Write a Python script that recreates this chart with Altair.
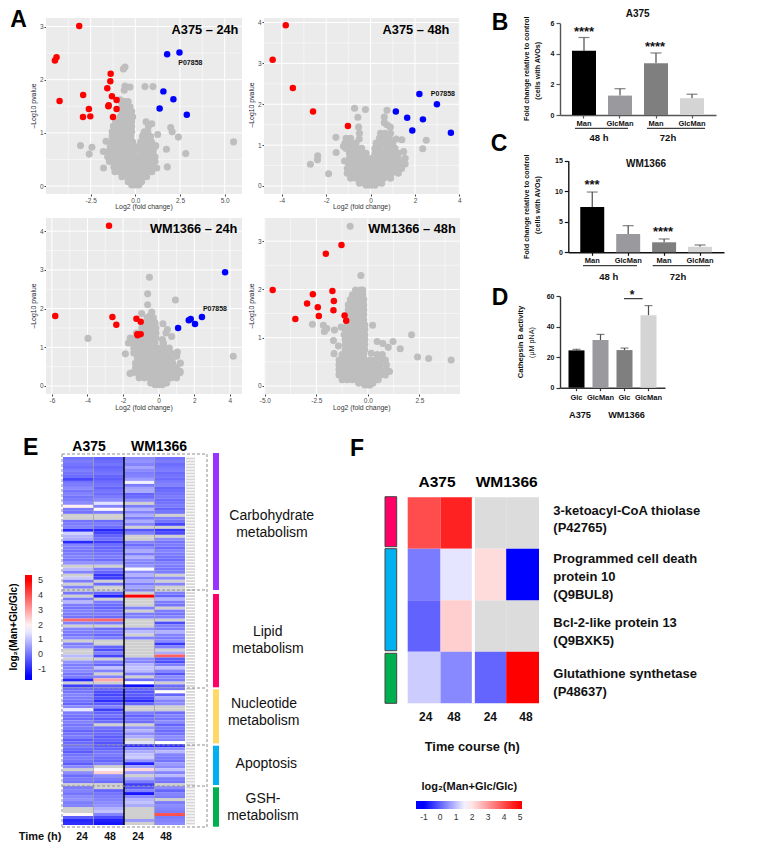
import altair as alt
import pandas as pd

n = None
W, H = 755, 844
FONT = "Liberation Sans"

# ---------- volcano data (log2 fold change, -log10 p) ----------
A1_RED_X = [-3.14, -4.41, -4.50, -4.24, -2.92, -2.60, -2.93, -2.52, -1.38, -1.40, -1.57, -1.31, -1.05, -1.51, -1.05, -1.25, -1.49]
A1_RED_Y = [3.01, 2.42, 2.36, 1.60, 1.71, 1.45, 1.30, 1.31, 2.11, 1.97, 1.84, 1.69, 1.62, 1.50, 1.45, 1.30, 1.52]
A1_BLUE_X = [1.78, 2.47, 1.57, 2.13, 1.36, 2.88]
A1_BLUE_Y = [2.48, 2.51, 1.78, 1.63, 1.46, 1.34]
A1_GREY_X = [-.58, -.67, -.58, -.3, -.62, .54, .99, -.86, -.64, -.52, -.49, -.39, -1.23, -1.14, .6, .92, .73, 1.98, 2.06, 2.41, 1.25, 5.5, -3.07, -2.43, -2.58, -1.79, -1.64, -1.78, 1.74, 2.82, 1.14, 1.2, 1.79, .45, .82]
A1_GREY_Y = [2.24, 2.2, 1.88, 1.86, 1.8, 1.87, 1.87, 1.62, 1.55, 1.49, 1.37, 1.27, 1.13, 1.09, 1.21, 1.17, 1.12, 1.10, 1.02, .92, .97, .83, .76, .73, .6, .65, .84, .34, .69, .61, .76, .34, .36, .97, .93]
A1_MASS = {
    .02: [-.2, 0, .2], .08: [-.4, -.15, .1, .35], .175: [-.75, -.45, -.15, .15, .4, .63],
    .27: [-1.14, -.85, -.55, -.25, .05, .35, .65, .92], .36: [-1.2, -.9, -.6, -.3, 0, .3, .6, .85, 1.0],
    .46: [-1.45, -1.15, -.85, -.55, -.25, .05, .35, .65, .95, 1.1], .55: [-1.55, -1.25, -.95, -.65, -.35, -.05, .25, .55, .85, 1.1],
    .65: [-1.5, -1.2, -.9, -.6, -.3, -.05, .3, .6, .85, 1.0], .74: [-1.4, -1.1, -.8, -.5, -.2, .1, .4, .7, 1.0, 1.1],
    .83: [-1.3, -1, -.7, -.4, -.15, .3, .6, .9], .93: [-1.3, -1.0, -.7, -.4, -.25, .4, .65, .85],
    1.02: [-1.3, -1, -.7, -.4, -.2, .5, .7], 1.12: [-1.2, -.9, -.6, -.3, -.2], 1.21: [-1.1, -.8, -.5, -.2],
    1.3: [-.85, -.55, -.25, -.15], 1.4: [-.75, -.5, -.2], 1.49: [-.75, -.5, -.3], 1.59: [-.8, -.6, -.4],
}

A2_RED_X = [-3.82, -4.41, -3.5, -2.59, -1.02]
A2_RED_Y = [3.93, 3.09, 2.40, 1.82, 1.47]
A2_BLUE_X = [2.2, 2.99, 1.14, 1.65, 2.36, 1.88, 3.62]
A2_BLUE_Y = [2.25, 2.0, 1.82, 1.67, 1.63, 1.36, 1.30]
A2_GREY_X = [-.72, -.23, -.57, -.54, -.5, -.51, -1.56, -1.07, -.96, -1.22, -1.55, -2.38, -2.39, -2.71, -1.89, -1.17, .74, .62, .62, .74, .89, 2.51, 2.35, 1.41, 1.16, .81, .59, 1.49, 1.56, 1.56, 1.26]
A2_GREY_Y = [1.9, 1.87, 1.68, 1.44, 1.29, 1.15, 1.19, 1.15, 1.05, .97, .82, .74, .64, .53, .30, .61, 1.85, 1.69, 1.55, 1.5, 1.44, 1.12, .91, 1.13, 1.15, 1.25, 1.21, .84, .68, .54, .56]
A2_MASS = {
    .02: [-.2, 0, .2], .07: [-.5, -.25, 0, .25, .5], .19: [-.9, -.65, -.4, -.15, .1, .35, .6, .9],
    .31: [-1.05, -.8, -.55, -.3, -.05, .2, .45, .7, .95, 1.25], .43: [-1.05, -.8, -.55, -.3, -.05, .2, .45, .7, .95, 1.2, 1.4],
    .56: [-1, -.75, -.5, -.25, 0, .25, .5, .75, 1, 1.25, 1.4], .68: [-.95, -.7, -.45, -.2, .05, .3, .55, .8, 1.05, 1.25],
    .8: [-.95, -.7, -.45, -.2, .2, .45, .7, .95, 1.25], .92: [-1.1, -.85, -.6, -.4, .2, .4, .7, .95, 1.1],
    1.05: [-1.15, -.9, -.65, .25, .5, .75, 1], 1.17: [-1.1, -.9, .4, .6, .85], 1.29: [.45, .65, .9],
}

A3_RED_X = [-2.79, -5.81, -2.6, -2.38, -1.25, -1.01, -1.2, -1.01, -1.18]
A3_RED_Y = [4.14, 1.81, 1.78, 1.58, 1.74, 1.66, 1.34, 1.34, 1.31]
A3_BLUE_X = [3.73, 2.43, 1.8, 1.69, 2.04, 1.09]
A3_BLUE_Y = [2.94, 1.78, 1.73, 1.70, 1.60, 1.5]
A3_GREY_X = [-.52, -.62, -.62, .94, -.96, -.39, -.52, -3.97, -1.87, 4.19, .24, .49, .41, .73, .21, .26, 1.05, 1.01, 1.22, 1.2, -1.61]
A3_GREY_Y = [2.81, 2.38, 2.10, 2.22, 1.87, 1.91, 1.8, 1.23, .83, .77, 1.61, 1.46, 1.37, 1.28, 1.2, 1.11, .88, .77, .59, .38, .32]
A3_MASS = {
    .03: [-.2, 0, .2], .08: [-.45, -.15, .15, .45], .21: [-1.1, -.8, -.5, -.2, .1, .4, .7, 1.0],
    .34: [-1.5, -1.2, -.9, -.6, -.3, 0, .3, .6, .9, 1.2], .47: [-1.3, -1, -.7, -.4, -.1, .2, .5, .8, 1],
    .59: [-1.3, -1, -.7, -.4, -.1, .2, .5, .8], .72: [-1.2, -.9, -.6, -.3, 0, .3, .6, .75],
    .85: [-1.4, -1.1, -.8, -.5, -.2, .1, .4, .7], .98: [-1.4, -1.1, -.8, -.5, -.2, .1, .35, .6],
    1.11: [-1.7, -1.4, -1.1, -.8, -.5, -.2, .25], 1.24: [-1.6, -1.3, -1, -.7, -.4, -.15],
    1.37: [-1.25, -.95, -.65, -.35, -.15], 1.5: [-.95, -.65, -.35, -.15], 1.63: [-.75, -.45, -.2], 1.76: [-.65, -.35, -.3],
}

A4_RED_X = [-1.28, -2.04, -4.62, -2.67, -1.72, -2.95, -1.65, -2.43, -1.67, -2.38, -3.52, -1.13, -1.05]
A4_RED_Y = [2.92, 2.74, 1.99, 1.90, 1.97, 1.71, 1.76, 1.63, 1.57, 1.45, 1.39, 1.46, 1.35]
A4_GREY_X = [-.86, -.34, -2.69, -2.16, -1.99, -2.11, -1.62, -1.3, -1.67, -1.43, -1.64, .23, 2.12, 1.22, .45, .73, .99, 1.57, 2.41, 2.95, 4.04, .16, 1.05]
A4_GREY_Y = [3.31, 2.29, 1.28, 1.26, 1.19, 1.13, 1.16, 1.22, .94, .83, .67, 1.26, 1.06, .92, .92, .88, .8, .77, .6, .57, .54, .68, .3]
A4_MASS = {
    .02: [-.15, 0, .1], .06: [-.45, -.2, .05, .25], .13: [-1.25, -1, -.75, -.5, -.25, 0, .25, .5],
    .23: [-1.4, -1.15, -.9, -.65, -.4, -.15, .1, .35, .6, .85], .34: [-1.4, -1.15, -.9, -.65, -.4, -.15, .1, .35, .6, .9],
    .44: [-1.4, -1.15, -.9, -.65, -.4, -.15, .1, .35, .6, .9], .54: [-1.4, -1.15, -.9, -.65, -.4, -.15, .1, .35, .55, .85],
    .65: [-1.25, -1, -.75, -.5, -.4, -.2, .45, .7], .75: [-1.1, -.85, -.6, -.35, -.15], .86: [-1.1, -.85, -.6, -.35, -.15],
    .96: [-1.1, -.85, -.6, -.35, -.15], 1.06: [-1.15, -.9, -.65, -.4, -.15], 1.17: [-1.1, -.85, -.6, -.35, -.15],
    1.27: [-1.0, -.75, -.5, -.25, -.15], 1.37: [-.95, -.7, -.45, -.2], 1.48: [-.95, -.7, -.45, -.2],
    1.58: [-.95, -.7, -.45, -.2], 1.68: [-.95, -.7, -.45, -.2], 1.79: [-.85, -.6, -.35, -.2],
    1.89: [-.75, -.5, -.25], 1.99: [-.6, -.35, -.25],
}

# ---------- bar panels ----------
B_CATS = ["Man 48", "GlcMan 48", "Man 72", "GlcMan 72"]
B_VALS = [4.21, 1.27, 3.38, 1.1]
B_ERRS = [5.07, 1.72, 4.06, 1.36]
C_VALS = [7.42, 3.0, 1.64, .9]
C_ERRS = [9.87, 4.36, 2.18, 1.2]
D_CATS = ["Glc A", "GlcMan A", "Glc W", "GlcMan W"]
D_VALS = [24.5, 31.3, 24.7, 47.5]
D_ERRS = [25.2, 35.0, 26.0, 53.9]
BAR_COLORS = ["#000000", "#9a9a9e", "#7f7f7f", "#d4d4d4"]

# ---------- heatmap E: log2(Man+Glc/Glc), one list per column, None = not detected ----------
E_A375_24 = [0,.1,0,-.1,.1,0,-.1,-.6,0,.1,
 .3,0,.2,0,.1,.3,2.0,.1,0,n,
 n,0,.1,.2,-1,1.2,.8,.7,-1,.2,
 .1,0,.1,.2,0,.4,n,.9,.2,n,
 1.1,.1,n,.2,n,0,n,.1,.9,.1,
 0,.2,.1,0,3.7,.2,n,.2,.1,0,
 .3,n,.1,.3,n,n,.9,n,.4,.1,
 .2,.3,0,.1,-1,n,-.7,-.1,0,.2,
 .1,0,-.2,.3,1.5,.1,0,-.1,.2,0,
 .1,-.2,0,.1,-.3,-.1,0,-.1,-.3,0,
 .1,0,-.3,.3,n,.3,-.1,.1,0,n,
 .1,.2,0,.3,.4,.1,.2,n,n,1.9,
 -.3,-1,-.9]
E_A375_48 = [-.2,-.1,0,-.2,-.1,0,-.2,-.3,-.1,0,
 -.2,0,-.1,.1,.3,1.4,.2,1.9,.1,n,
 n,-.1,.1,-.1,-1,-.6,-.2,0,-.7,-.1,
 -.2,-.1,0,.1,-.1,.4,n,.1,-.2,-.8,
 -.7,n,-.1,n,n,-.2,-1.1,n,.1,-.1,
 -.2,0,.1,-.1,3.7,.1,n,-.1,.1,-.2,
 .1,n,n,-.2,-.5,.2,-.6,n,.1,-.2,
 1,.2,n,.2,2.9,n,-.3,-.2,-.5,-.6,
 -.4,-.9,-.3,.2,-.7,-.2,0,-.3,-.1,n,
 0,-.2,-.1,-.3,-.2,-.4,-.3,-.2,0,.1,
 -.1,-.2,.1,n,1.7,2.4,.3,.1,-.1,n,
 n,-.2,0,.1,.2,.3,.4,.8,1,.2,
 -.5,-1.1,-1.2]
E_WM_24 = [.3,.4,.2,.6,.3,.1,.2,.5,1.6,.1,
 .6,.7,-.2,-.1,.3,n,.1,.8,.2,.7,
 .1,.7,.2,n,-.4,.1,n,n,.2,-.1,
 .3,.7,.1,.8,.3,.2,.4,1.7,.3,.8,
 .2,.7,.1,.6,.2,n,5,n,n,n,
 .2,n,.1,.2,n,n,n,.3,.9,n,
 .2,n,n,n,n,n,n,.3,.2,.8,
 1,.9,.1,n,-.1,1.8,-1.3,-.2,-.4,-.3,
 -.5,-1,-.2,n,n,.1,-.2,0,-.1,n,
 .4,.8,.3,.7,n,1.4,-.9,.3,.7,1,
 1.1,.4,-1.1,.6,2.3,.5,n,.7,.1,-.7,
 -.3,.2,-1.2,.3,.8,1,.7,n,n,n,
 n,.5,n]
E_WM_48 = [0,.1,-.1,0,.1,-.1,0,-.1,.1,.2,
 -.2,-.1,0,.1,-.1,0,.1,-.2,0,n,
 .2,0,-.6,n,-.8,-.5,n,.3,0,.1,
 -.1,.2,.1,0,-.1,.2,.1,0,.1,n,
 .3,n,.2,n,n,.1,-.2,.8,.1,0,
 n,.1,0,.2,n,-.5,.2,.1,.8,.2,
 .1,.3,-.8,.2,n,.7,3.8,-.3,-.5,.1,
 1,.2,-.4,.3,.1,n,-.1,0,1.8,-.2,
 .7,.2,.3,n,n,-.1,.2,0,.3,-.2,
 .1,-.1,0,.3,.2,1.8,-.9,.3,.9,.2,
 .1,0,.5,.3,1,.2,.9,.1,0,n,
 .3,-.2,.2,.1,n,.1,.3,.2,.1,4,
 .1,.2,.3]
E_COLUMNS = [E_A375_24, E_A375_48, E_WM_24, E_WM_48]

# ---------- heatmap F ----------
F_PROTEINS = ["P42765", "Q9BUL8", "Q9BXK5", "P48637"]
F_VALUES = [[4.0, 4.56, n, n], [.28, 1.39, 2.12, -1], [.02, 2.29, n, n], [1.13, .42, .04, 5]]

# ---------- page layout (image pixels) ----------
def sc(domain, rng, **kw):
    return alt.Scale(domain=domain, range=[r - 8 for r in rng], nice=False, zero=False, **kw)

PX = sc([0, 771], [0, 771])
PY = sc([0, 860], [0, 860])
layers = []

def off_bottom(py):
    return (py - 8) - H

def off_left(px):
    return -(px - 8)

MINUS = "replace(datum.label,'\u2212','-')"
GREY_SIZE = 50

def volcano(xd, xr, yd, yr, xmaj, xmin, ymaj, ymin, xfmt, rx, ry, bx, by, gx, gy, mass, tag):
    X = sc(xd, xr)
    Y = sc(yd, yr)
    def xenc(f, axis=None):
        return alt.X(f + ":Q", scale=X, axis=axis)
    def yenc(f, axis=None):
        return alt.Y(f + ":Q", scale=Y, axis=axis)
    bg = pd.DataFrame({"a": [xd[0]], "b": [xd[1]], "c": [yd[0]], "d": [yd[1]]})
    layers.append(alt.Chart(bg).mark_rect(color="#ebebeb").encode(
        x=xenc("a"), x2=alt.X2("b"), y=yenc("c"), y2=alt.Y2("d")))
    for vals, w in ((xmin, .5), (xmaj, 1.0)):
        d = pd.DataFrame({"v": vals, "c": yd[0], "d": yd[1]})
        layers.append(alt.Chart(d).mark_rule(color="white", strokeWidth=w).encode(
            x=xenc("v"), y=yenc("c"), y2=alt.Y2("d")))
    for vals, w in ((ymin, .5), (ymaj, 1.0)):
        d = pd.DataFrame({"v": vals, "a": xd[0], "b": xd[1]})
        layers.append(alt.Chart(d).mark_rule(color="white", strokeWidth=w).encode(
            y=yenc("v"), x=xenc("a"), x2=alt.X2("b")))
    axx = alt.Axis(orient="bottom", offset=off_bottom(yr[0]), values=xmaj, format=xfmt, labelExpr=MINUS,
                   grid=False, domain=False, tickSize=2, tickColor="#444", labelColor="#4d4d4d",
                   labelFontSize=6.5, labelPadding=1, title=None, labelFlush=False, labelOverlap=False)
    axy = alt.Axis(orient="left", offset=off_left(xr[0]), values=ymaj, format="d",
                   grid=False, domain=False, tickSize=2, tickColor="#444", labelColor="#4d4d4d",
                   labelFontSize=6.5, labelPadding=1, title=None, labelFlush=False, labelOverlap=False)
    mx, my = [], []
    for yv, xs in mass.items():
        for v in xs:
            mx.append(v)
            my.append(yv)
    grey = pd.DataFrame({"x": mx + gx, "y": my + gy})
    layers.append(alt.Chart(grey).mark_circle(size=GREY_SIZE, opacity=1, color="#bebebe").encode(
        x=xenc("x", axx), y=yenc("y", axy)))
    layers.append(alt.Chart(pd.DataFrame({"x": rx, "y": ry})).mark_circle(size=42, opacity=1, color="#ff0000").encode(
        x=xenc("x"), y=yenc("y")))
    if bx:
        layers.append(alt.Chart(pd.DataFrame({"x": bx, "y": by})).mark_circle(size=42, opacity=1, color="#0000ff").encode(
            x=xenc("x"), y=yenc("y")))
    if tag:
        layers.append(alt.Chart(pd.DataFrame({"x": [tag[0]], "y": [tag[1]], "t": ["P07858"]})).mark_text(
            font=FONT, fontSize=7, fontWeight="bold", color="#111").encode(
            x=xenc("x"), y=yenc("y"), text="t:N"))

volcano([-5.0, 5.97], [46, 242], [-.15, 3.16], [194, 18], [-2.5, 0, 2.5, 5], [-3.75, -1.25, 1.25, 3.75], [0, 1, 2, 3], [.5, 1.5, 2.5], ".1f",
        A1_RED_X, A1_RED_Y, A1_BLUE_X, A1_BLUE_Y, A1_GREY_X, A1_GREY_Y, A1_MASS, (3.08, 2.31))
volcano([-4.8, 4.03], [264, 460], [-.196, 4.11], [194, 18], [-4, -2, 0, 2, 4], [-3, -1, 1, 3], [0, 1, 2, 3, 4], [.5, 1.5, 2.5, 3.5], "d",
        A2_RED_X, A2_RED_Y, A2_BLUE_X, A2_BLUE_Y, A2_GREY_X, A2_GREY_Y, A2_MASS, (3.26, 2.25))
volcano([-6.33, 4.68], [46, 242], [-.207, 4.34], [394, 218], [-6, -4, -2, 0, 2, 4], [-5, -3, -1, 1, 3], [0, 1, 2, 3, 4], [.5, 1.5, 2.5, 3.5], "d",
        A3_RED_X, A3_RED_Y, A3_BLUE_X, A3_BLUE_Y, A3_GREY_X, A3_GREY_Y, A3_MASS, (3.16, 2.0))
volcano([-5.04, 4.47], [264, 460], [-.166, 3.48], [394, 218], [-5, -2.5, 0, 2.5], [-3.75, -1.25, 1.25, 3.75], [0, 1, 2, 3], [.5, 1.5, 2.5], ".1f",
        A4_RED_X, A4_RED_Y, [], [], A4_GREY_X, A4_GREY_Y, A4_MASS, None)

def bars(cats, vals, errs, xr, yd, yr, ticks, pad_in, pad_out, capw, label_pad, axis_color):
    Xb = alt.Scale(domain=cats, range=[r - 8 for r in xr], paddingInner=pad_in, paddingOuter=pad_out)
    Y = sc(yd, yr)
    df = pd.DataFrame({"cat": cats, "v": vals, "e": errs})
    axx = alt.Axis(orient="bottom", offset=off_bottom(yr[0]), labelExpr="split(datum.label,' ')[0]", labelAngle=0,
                   title=None, grid=False, domainColor=axis_color, domainWidth=1.4, tickColor=axis_color, tickWidth=1.2,
                   tickSize=3, labelFontSize=7.5, labelFontWeight="bold", labelColor="#111", labelPadding=label_pad)
    axy = alt.Axis(orient="left", offset=off_left(xr[0]), values=ticks, format="d", title=None, grid=False,
                   domainColor=axis_color, domainWidth=1.4, tickColor=axis_color, tickWidth=1.2, tickSize=4,
                   labelFontSize=7, labelFontWeight="bold", labelColor="#111", labelPadding=2,
                   labelFlush=False, labelOverlap=False)
    xe = alt.X("cat:N", scale=Xb, axis=None, sort=None)
    layers.append(alt.Chart(df).mark_rule(color="#4d4d4d", strokeWidth=1.2).encode(
        x=xe, y=alt.Y("v:Q", scale=Y, axis=None), y2=alt.Y2("e")))
    layers.append(alt.Chart(df).mark_tick(color="#4d4d4d", orient="horizontal", size=capw, thickness=1.2).encode(
        x=xe, y=alt.Y("e:Q", scale=Y, axis=None)))
    layers.append(alt.Chart(df).mark_bar(size=(xr[1] - xr[0]) / (len(cats) - pad_in + 2 * pad_out) * (1 - pad_in)).encode(
        x=alt.X("cat:N", scale=Xb, axis=axx, sort=None),
        y=alt.Y("v:Q", scale=Y, axis=axy),
        color=alt.Color("cat:N", scale=alt.Scale(domain=cats, range=BAR_COLORS), legend=None)))

bars(B_CATS, B_VALS, B_ERRS, [560, 716], [0, 6], [115, 23.3], [0, 2, 4, 6], .333, .333, 11, 1, "#555555")
bars(B_CATS, C_VALS, C_ERRS, [568.3, 724], [0, 15], [252.3, 160.7], [0, 5, 10, 15], .333, .333, 11, 1, "#111111")
bars(D_CATS, D_VALS, D_ERRS, [560, 665], [0, 60], [387.7, 296.3], [0, 20, 40, 60], .333, .354, 8, 3, "#333333")

# ---------- heatmap E ----------
NROW = len(E_A375_24)
EX = sc([0, 4], [63, 185])
EY = sc([0, NROW], [457, 825])
E_SCALE = alt.Scale(domain=[-1.74, -1.5, 1.8, 5, 5.34], range=["#0000ff", "#0000ff", "#ffffff", "#ff0000", "#ff0000"], interpolate="rgb", clamp=True)
rows = []
for c, col in enumerate(E_COLUMNS):
    for r, v in enumerate(col):
        rows.append({"c0": c, "c1": c + 1, "r0": r, "r1": r + 1, "v": v})
edf = pd.DataFrame(rows)
layers.append(alt.Chart(edf[edf.v.isna()][["c0", "c1", "r0", "r1"]]).mark_rect(color="#cfcfcf").encode(
    x=alt.X("c0:Q", scale=EX, axis=None), x2=alt.X2("c1"), y=alt.Y("r0:Q", scale=EY, axis=None), y2=alt.Y2("r1")))
layers.append(alt.Chart(edf[edf.v.notna()]).mark_rect().encode(
    x=alt.X("c0:Q", scale=EX, axis=None), x2=alt.X2("c1"), y=alt.Y("r0:Q", scale=EY, axis=None), y2=alt.Y2("r1"),
    color=alt.Color("v:Q", scale=E_SCALE, legend=alt.Legend(
        orient="none", legendX=25 - 8, legendY=575 - 8, direction="vertical", gradientLength=105, gradientThickness=7,
        title=None, values=[-1, 0, 1, 2, 3, 4, 5], format="d", labelExpr=MINUS, labelFontSize=9, labelColor="#333",
        labelOffset=6, labelFont=FONT, gradientStrokeWidth=0))))
layers.append(alt.Chart(pd.DataFrame({"x": [1, 3], "a": 0, "b": NROW})).mark_rule(color="#999999", strokeWidth=.7).encode(
    x=alt.X("x:Q", scale=EX, axis=None), y=alt.Y("a:Q", scale=EY, axis=None), y2=alt.Y2("b")))
layers.append(alt.Chart(pd.DataFrame({"x": [2], "a": 0, "b": NROW})).mark_rule(color="#000000", strokeWidth=1.5).encode(
    x=alt.X("x:Q", scale=EX, axis=None), y=alt.Y("a:Q", scale=EY, axis=None), y2=alt.Y2("b")))
# faint protein-label column (illegible in the source)
lab = pd.DataFrame({"r": [r + .5 for r in range(NROW)], "a": 186, "b": 195})
layers.append(alt.Chart(lab).mark_rule(color="#d6d6d6", strokeWidth=1.8).encode(
    x=alt.X("a:Q", scale=PX, axis=None), x2=alt.X2("b"), y=alt.Y("r:Q", scale=EY, axis=None)))
# dashed group boxes
H_DASH = pd.DataFrame({"y": [454, 590, 688, 745, 786, 827], "a": 62, "b": 207})
V_DASH = pd.DataFrame({"x": [62, 207], "a": 454, "b": 827})
layers.append(alt.Chart(H_DASH).mark_rule(color="#8f8f8f", strokeWidth=1, strokeDash=[3, 2]).encode(
    y=alt.Y("y:Q", scale=PY, axis=None), x=alt.X("a:Q", scale=PX, axis=None), x2=alt.X2("b")))
layers.append(alt.Chart(V_DASH).mark_rule(color="#8f8f8f", strokeWidth=1, strokeDash=[3, 2]).encode(
    x=alt.X("x:Q", scale=PX, axis=None), y=alt.Y("a:Q", scale=PY, axis=None), y2=alt.Y2("b")))
# category strip
STRIP_E = pd.DataFrame({"a": 213, "b": 219, "t": [453, 594, 689.3, 745.7, 787.3], "u": [590, 687.3, 743.3, 785, 826.7],
                        "k": ["Carbohydrate", "Lipid", "Nucleotide", "Apoptosis", "GSH"]})
layers.append(alt.Chart(STRIP_E).mark_rect().encode(
    x=alt.X("a:Q", scale=PX, axis=None), x2=alt.X2("b"), y=alt.Y("t:Q", scale=PY, axis=None), y2=alt.Y2("u"),
    color=alt.Color("k:N", scale=alt.Scale(domain=list(STRIP_E.k), range=["#9933ff", "#ff0066", "#ffd966", "#00b0f0", "#00b050"]), legend=None)))

# ---------- heatmap F ----------
FX = sc([0, 4], [407.7, 539])
FY = sc([0, 4], [497.3, 703.3])
F_SCALE = alt.Scale(domain=[-1.5, -1, 1.66, 5, 5.125], range=["#0000ff", "#0000ff", "#ffffff", "#ff0000", "#ff0000"], interpolate="rgb", clamp=True)
rows = []
for r, rowv in enumerate(F_VALUES):
    for c, v in enumerate(rowv):
        rows.append({"c0": c, "c1": c + 1, "r0": r, "r1": r + 1, "v": v})
fdf = pd.DataFrame(rows)
layers.append(alt.Chart(fdf[fdf.v.isna()][["c0", "c1", "r0", "r1"]]).mark_rect(color="#dcdcdc").encode(
    x=alt.X("c0:Q", scale=FX, axis=None), x2=alt.X2("c1"), y=alt.Y("r0:Q", scale=FY, axis=None), y2=alt.Y2("r1")))
layers.append(alt.Chart(fdf[fdf.v.notna()]).mark_rect().encode(
    x=alt.X("c0:Q", scale=FX, axis=None), x2=alt.X2("c1"), y=alt.Y("r0:Q", scale=FY, axis=None), y2=alt.Y2("r1"),
    color=alt.Color("v:Q", scale=F_SCALE, legend=alt.Legend(
        orient="none", legendX=416 - 8, legendY=801 - 8, direction="horizontal", gradientLength=106, gradientThickness=8,
        title=None, values=[-1, 0, 1, 2, 3, 4, 5], format="d", labelExpr=MINUS, labelFontSize=8.5, labelColor="#333",
        labelOffset=4, labelFont=FONT, gradientStrokeWidth=0))))
layers.append(alt.Chart(pd.DataFrame({"x": [2], "a": 0, "b": 4})).mark_rule(color="#ffffff", strokeWidth=3).encode(
    x=alt.X("x:Q", scale=FX, axis=None), y=alt.Y("a:Q", scale=FY, axis=None), y2=alt.Y2("b")))
STRIP_F = pd.DataFrame({"a": 385, "b": 396.7, "t": [496.7, 548.7, 653.3], "u": [546.7, 650.7, 703.3], "k": ["Lipid", "Apoptosis", "GSH"]})
layers.append(alt.Chart(STRIP_F).mark_rect(stroke="#444444", strokeWidth=1).encode(
    x=alt.X("a:Q", scale=PX, axis=None), x2=alt.X2("b"), y=alt.Y("t:Q", scale=PY, axis=None), y2=alt.Y2("u"),
    color=alt.Color("k:N", scale=alt.Scale(domain=list(STRIP_F.k), range=["#ff0066", "#00b0f0", "#00b050"]), legend=None)))

# ---------- underlines in panels B, C, D ----------
LINES = pd.DataFrame({"a": [575, 647, 583, 652.7, 624], "b": [628, 705, 637, 710, 642.7], "y": [128.3, 128.3, 265.7, 265.7, 298.7]})
layers.append(alt.Chart(LINES).mark_rule(color="#111111", strokeWidth=1).encode(
    x=alt.X("a:Q", scale=PX, axis=None), x2=alt.X2("b"), y=alt.Y("y:Q", scale=PY, axis=None)))

# ---------- all free text: (text, x, y, size, bold, angle, align, colour) ----------
ANN = [
 ("A", 18.5, 20, 23, 1, 0, "center", "#000"), ("B", 500, 22.7, 23, 1, 0, "center", "#000"),
 ("C", 499, 144, 23, 1, 0, "center", "#000"), ("D", 500, 297.7, 23, 1, 0, "center", "#000"),
 ("E", 30.7, 448, 23, 1, 0, "center", "#000"), ("F", 357, 449, 23, 1, 0, "center", "#000"),
 ("A375 \u2013 24h", 205, 30, 12.8, 1, 0, "center", "#000"), ("A375 \u2013 48h", 416, 30, 12.8, 1, 0, "center", "#000"),
 ("WM1366 \u2013 24h", 193.7, 229, 12.8, 1, 0, "center", "#000"), ("WM1366 \u2013 48h", 412, 229, 12.8, 1, 0, "center", "#000"),
 ("Log2 (fold change)", 144, 207.3, 6.9, 0, 0, "center", "#333"), ("Log2 (fold change)", 361.7, 207.3, 6.9, 0, 0, "center", "#333"),
 ("Log2 (fold change)", 144, 407.7, 6.9, 0, 0, "center", "#333"), ("Log2 (fold change)", 361.7, 407.7, 6.9, 0, 0, "center", "#333"),
 ("\u2013Log10 pvalue", 34.3, 106, 6.9, 0, 270, "center", "#223"), ("\u2013Log10 pvalue", 252.3, 105, 6.9, 0, 270, "center", "#223"),
 ("\u2013Log10 pvalue", 34.3, 306, 6.9, 0, 270, "center", "#223"), ("\u2013Log10 pvalue", 252.3, 306, 6.9, 0, 270, "center", "#223"),
 ("A375", 637.7, 13.7, 10, 1, 0, "center", "#111"), ("WM1366", 646, 164, 10, 1, 0, "center", "#111"),
 ("Fold change relative to control", 526.7, 68.7, 7.2, 1, 270, "center", "#111"), ("(cells with AVOs)", 537.7, 70.7, 7.2, 1, 270, "center", "#111"),
 ("Fold change relative to control", 526.7, 206.7, 7.2, 1, 270, "center", "#111"), ("(cells with AVOs)", 537.7, 205, 7.2, 1, 270, "center", "#111"),
 ("****", 584, 31.5, 13, 1, 0, "center", "#111"), ("****", 655, 46.5, 13, 1, 0, "center", "#111"),
 ("***", 592, 185, 13, 1, 0, "center", "#111"), ("****", 663, 232, 13, 1, 0, "center", "#111"),
 ("*", 632, 295, 12, 1, 0, "center", "#111"),
 ("48 h", 599, 138, 9.5, 1, 0, "center", "#111"), ("72h", 668, 138, 9.5, 1, 0, "center", "#111"),
 ("48 h", 608.7, 276.7, 9.5, 1, 0, "center", "#111"), ("72h", 678, 276.7, 9.5, 1, 0, "center", "#111"),
 ("Cathepsin B activity", 520.7, 342, 7.6, 1, 270, "center", "#111"), ("(\u03bcM pNA)", 531.7, 342.5, 7.2, 0, 270, "center", "#111"),
 ("A375", 580, 414.5, 9.2, 1, 0, "center", "#111"), ("WM1366", 626.5, 414.5, 9.2, 1, 0, "center", "#111"),
 ("A375", 89, 446.7, 14, 1, 0, "center", "#000"), ("WM1366", 159, 446.7, 14, 1, 0, "center", "#000"),
 ("log\u2082(Man+Glc/Glc)", 14, 627, 10, 1, 270, "center", "#000"),
 ("Carbohydrate", 271.7, 516, 14, 0, 0, "center", "#111"), ("metabolism", 272, 533, 14, 0, 0, "center", "#111"),
 ("Lipid", 267.7, 631.7, 14, 0, 0, "center", "#111"), ("metabolism", 268, 648.7, 14, 0, 0, "center", "#111"),
 ("Nucleotide", 264, 704, 14, 0, 0, "center", "#111"), ("metabolism", 263.7, 721, 14, 0, 0, "center", "#111"),
 ("Apoptosis", 266.3, 764.3, 14, 0, 0, "center", "#111"),
 ("GSH-", 263, 799.3, 14, 0, 0, "center", "#111"), ("metabolism", 263, 816, 14, 0, 0, "center", "#111"),
 ("Time (h)", 40, 837, 11, 1, 0, "center", "#111"), ("24", 82, 837, 10.5, 1, 0, "center", "#111"), ("48", 110, 837, 10.5, 1, 0, "center", "#111"),
 ("24", 138, 837, 10.5, 1, 0, "center", "#111"), ("48", 166, 837, 10.5, 1, 0, "center", "#111"),
 ("A375", 437, 482.3, 15.5, 1, 0, "center", "#000"), ("WM1366", 506.7, 482.3, 15.5, 1, 0, "center", "#000"),
 ("3-ketoacyl-CoA thiolase", 553.3, 511, 13, 1, 0, "left", "#111"), ("(P42765)", 553.3, 528.3, 13, 1, 0, "left", "#111"),
 ("Programmed cell death", 553.3, 559.3, 13, 1, 0, "left", "#111"), ("protein 10", 553.3, 577, 13, 1, 0, "left", "#111"),
 ("(Q9BUL8)", 553.3, 594.7, 13, 1, 0, "left", "#111"), ("Bcl-2-like protein 13", 553.3, 622.7, 13, 1, 0, "left", "#111"),
 ("(Q9BXK5)", 553.3, 640.7, 13, 1, 0, "left", "#111"), ("Glutathione synthetase", 553.3, 674.3, 13, 1, 0, "left", "#111"),
 ("(P48637)", 553.3, 692, 13, 1, 0, "left", "#111"),
 ("24", 425.7, 717.3, 12, 1, 0, "center", "#111"), ("48", 454, 717.3, 12, 1, 0, "center", "#111"),
 ("24", 490.3, 717.3, 12, 1, 0, "center", "#111"), ("48", 526, 717.3, 12, 1, 0, "center", "#111"),
 ("Time course (h)", 472.3, 747.3, 12.8, 1, 0, "center", "#111"),
 ("log\u2082(Man+Glc/Glc)", 469.3, 787.3, 11, 1, 0, "center", "#111"),
]
ann = pd.DataFrame(ANN, columns=["t", "x", "y", "s", "b", "a", "al", "c"])
for (b, al), g in ann.groupby(["b", "al"]):
    layers.append(alt.Chart(g).mark_text(font=FONT, fontWeight="bold" if b else "normal", align=al, baseline="middle").encode(
        x=alt.X("x:Q", scale=PX, axis=None),
        y=alt.Y("y:Q", scale=PY, axis=None),
        text="t:N",
        size=alt.Size("s:Q", scale=None, legend=None),
        angle=alt.Angle("a:Q", scale=None),
        color=alt.Color("c:N", scale=None, legend=None)))

chart = alt.layer(*layers).resolve_scale(
    x="independent", y="independent", color="independent"
).resolve_axis(x="independent", y="independent").resolve_legend(color="independent").properties(
    width=W, height=H, padding=0, autosize=alt.AutoSizeParams(type="none"), background="white"
).configure_view(stroke=None).configure_axis(labelFont=FONT, titleFont=FONT).configure_legend(labelFont=FONT)

chart.save("out.html", embed_options={"renderer": "svg", "actions": False})
